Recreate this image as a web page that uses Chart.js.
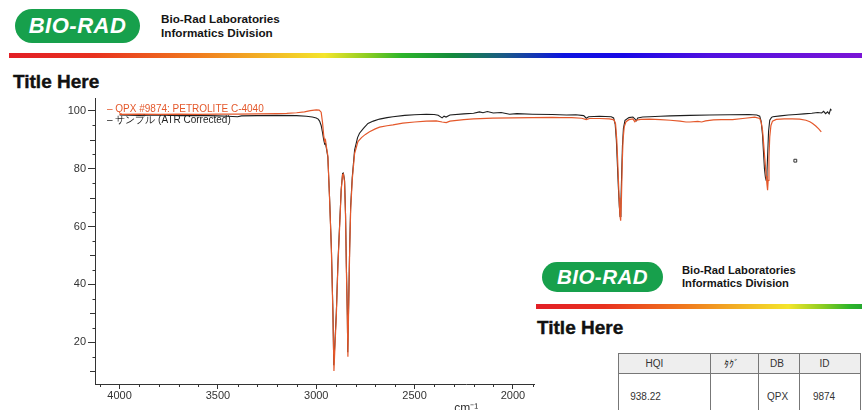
<!DOCTYPE html>
<html><head><meta charset="utf-8">
<script src="https://cdn.jsdelivr.net/npm/chart.js@4"></script>
<style>
html,body{margin:0;padding:0;width:862px;height:410px;overflow:hidden;background:#fff;font-family:'Liberation Sans',Arial,sans-serif;}
.abs{position:absolute;}
.logo{background:#17a04c;color:#fff;font-weight:bold;font-style:italic;text-align:center;letter-spacing:0.5px;}
.co{font-weight:bold;color:#151515;white-space:nowrap;}
.bar{background:linear-gradient(to right,#e21f26 0%,#e8311f 10%,#f07a1e 22%,#f4e52b 37%,#8ccd22 42%,#2db52a 46%,#138a3c 52%,#1a5a86 58%,#0d14e0 65%,#1808e6 72%,#5010e0 82%,#7a14d6 100%);}
.ttl{font-weight:bold;color:#111;white-space:nowrap;-webkit-text-stroke:0.4px #111;}
#legend div{white-space:nowrap;}
table.t{border-collapse:collapse;table-layout:fixed;font-size:10px;color:#333;}
table.t td{border:1px solid #777;text-align:center;padding:0;vertical-align:middle;white-space:nowrap;}
</style></head><body>
<div class="abs logo" style="left:15px;top:9px;width:125px;height:34px;line-height:34px;font-size:22px;border-radius:17px;">BIO-RAD</div>
<div class="abs co" style="left:161px;top:11.5px;font-size:11.7px;line-height:14.5px;">Bio-Rad Laboratories<br>Informatics Division</div>
<div class="abs bar" style="left:9px;top:53px;width:853px;height:5px;"></div>
<div class="abs ttl" style="left:13px;top:70.5px;font-size:19px;line-height:22px;">Title Here</div>
<canvas id="c" class="abs" width="862" height="420" style="left:0;top:0;"></canvas>
<div id="legend" class="abs" style="left:107px;top:104px;font-size:10px;line-height:10.5px;"></div>
<div class="abs" style="left:535px;top:250px;width:327px;height:160px;background:#fff;overflow:hidden;">
  <div class="abs logo" style="left:7px;top:12px;width:121px;height:30px;line-height:30px;font-size:20.5px;border-radius:15px;">BIO-RAD</div>
  <div class="abs co" style="left:147px;top:13.5px;font-size:11.2px;line-height:13px;">Bio-Rad Laboratories<br>Informatics Division</div>
  <div class="abs bar" style="left:1px;top:54px;width:682px;height:5px;"></div>
  <div class="abs ttl" style="left:2px;top:66.5px;font-size:19px;line-height:22px;">Title Here</div>
  <table class="t abs" style="left:83px;top:103px;">
    <colgroup><col style="width:92px"><col style="width:48px"><col style="width:41px"><col style="width:61px"></colgroup>
    <tr style="height:20px;background:#eeeeee">
      <td style="padding-right:20px">HQI</td><td style="padding-right:7px">ﾀｸﾞ</td><td style="padding-right:4px">DB</td><td style="padding-right:11px">ID</td>
    </tr>
    <tr style="height:46px">
      <td style="padding-right:38px">938.22</td><td></td><td style="padding-right:3px">QPX</td><td style="padding-right:12px">9874</td>
    </tr>
  </table>
</div>
<script>
// ---- data ----
const seriesLabels = ['QPX #9874: PETROLITE C-4040', 'サンプル (ATR Corrected)'];
const refWn = [4000,3900,3800,3700,3600,3500,3400,3300,3200,3150,
  3100,3060,3030,3000,2985,2975,2968,2962,2957,2953,
  2948,2941,2932,2923,2915,2910,2904,2898,2890,2881,
  2873,2866,2862,2856,2851,2847,2842,2839,2836,2830,
  2825,2817,2805,2788,2770,2750,2729,2700,2678,2640,
  2610,2560,2500,2440,2390,2360,2339,2320,2250,2200,
  2102,2000,1900,1800,1762,1700,1650,1627,1610,1560,
  1510,1490,1485,1478,1472,1468,1464,1460,1456,1452,
  1448,1444,1440,1434,1425,1410,1390,1380,1373,1350,
  1305,1250,1200,1150,1120,1100,1060,1040,1020,980,
  940,883,820,770,745,737,731,726,721,716,
  712,708,705,702,698,694,688,680,661,620,
  580,542,510,490,476,460,445,432];
const refT = [98.8,98.9,98.8,98.9,98.8,98.9,98.9,99.0,99.1,99.2,
  99.4,99.7,100.1,100.4,100.3,99.6,96.0,91.5,89.5,90.0,
  87.5,84.5,69.2,51.9,28.8,10.0,20.0,29.0,46.0,60.0,
  72.6,78.0,78.2,75.5,63.4,46.0,28.8,14.9,28.8,51.9,
  65.7,76.1,85.3,89.4,90.8,91.9,92.8,93.8,94.4,94.9,
  95.2,95.8,96.2,96.5,96.6,96.2,96.0,96.5,97.0,97.3,
  97.5,97.6,97.7,97.8,97.7,97.7,97.5,97.0,97.4,97.4,
  97.3,97.0,96.8,95.5,90.0,84.0,77.0,70.0,64.0,62.0,
  70.0,82.0,90.0,94.5,96.3,97.0,97.3,96.3,96.8,97.1,
  97.2,97.0,96.8,96.5,96.2,96.2,96.4,96.2,96.6,96.9,
  97.0,97.0,97.5,97.9,97.4,96.0,93.5,89.5,85.0,81.0,
  77.5,74.5,72.6,76.0,84.0,91.0,95.0,96.5,97.1,97.3,
  97.3,97.2,96.8,96.3,95.7,94.8,93.8,92.8];
const samWn = [4000,3900,3800,3700,3600,3500,3450,3400,3380,3300,
  3200,3100,3050,3020,3000,2990,2983,2975,2968,2962,
  2957,2953,2948,2941,2932,2923,2915,2911,2905,2898,
  2890,2881,2873,2866,2862,2856,2851,2847,2842,2840,
  2836,2830,2825,2817,2805,2790,2780,2760,2737,2710,
  2678,2640,2610,2550,2500,2440,2400,2380,2360,2350,
  2340,2320,2250,2200,2170,2152,2130,2100,2060,2017,
  1980,1900,1800,1728,1680,1640,1627,1615,1560,1500,
  1488,1480,1474,1469,1464,1459,1455,1451,1447,1443,
  1438,1430,1410,1390,1380,1372,1365,1340,1305,1250,
  1200,1100,1000,900,800,760,745,738,731,726,
  721,716,712,708,704,700,694,685,678,640,
  600,560,520,480,450,430,420,410,400,392,385,380];
const samT = [98.6,98.5,98.6,98.4,98.5,98.3,98.2,98.0,98.3,98.4,
  98.5,98.4,98.2,97.9,97.6,97.2,96.5,95.0,92.5,90.0,
  88.5,88.8,87.0,84.0,69.5,52.5,30.0,12.0,20.0,30.0,
  47.0,61.0,73.0,78.4,78.5,76.0,64.0,47.0,30.0,16.5,
  30.0,53.0,67.0,77.0,86.5,90.8,92.3,94.0,95.7,96.5,
  97.2,97.7,98.0,98.5,98.7,98.9,98.8,98.5,97.6,98.2,
  97.9,98.6,99.0,99.2,99.7,99.4,99.8,99.3,99.5,98.9,
  99.1,98.9,98.8,98.6,98.7,98.4,97.5,98.0,98.2,98.0,
  97.6,95.5,90.0,82.0,74.0,67.0,63.5,68.0,78.0,88.0,
  94.0,96.8,97.7,97.9,97.3,96.6,97.6,97.9,98.0,98.2,
  98.3,98.5,98.6,98.7,98.8,98.6,98.2,96.5,92.0,86.0,
  80.0,77.0,76.0,79.0,86.0,93.0,96.8,97.8,98.0,98.3,
  98.6,98.8,99.0,99.2,99.5,99.3,99.9,99.1,99.7,99.0,100.6,100.2];
const markWn = [564];
const markT = [82.8];
const xTickValues = [500,1000,1500,2000,2500,3000,3500,4000];
const yTickValues = [20,40,60,80,100];
const yMinorValues = [10,15,25,30,35,45,50,55,65,70,75,85,90,95];
const xMinorStep = 100;

const toPts = (xs, ys) => xs.map((x, i) => ({x: x, y: ys[i]}));

Chart.defaults.font.family = "'Liberation Sans', Arial, sans-serif";
Chart.defaults.color = '#333';

const minorTicks = {
  id: 'minorTicks',
  afterDraw(chart) {
    const ctx = chart.ctx, xs = chart.scales.x, ys = chart.scales.y;
    ctx.save();
    ctx.strokeStyle = '#333';
    ctx.lineWidth = 1;
    ctx.beginPath();
    for (let v = 400; v <= 4100; v += xMinorStep) {
      if (xTickValues.includes(v)) continue;
      const p = Math.round(xs.getPixelForValue(v)) + 0.5;
      ctx.moveTo(p, xs.top);
      ctx.lineTo(p, xs.top + 3);
    }
    yMinorValues.forEach(v => {
      const L = (v % 10 === 0) ? 5 : 2.5;
      const p = Math.round(ys.getPixelForValue(v)) + 0.5;
      ctx.moveTo(ys.right, p);
      ctx.lineTo(ys.right - L, p);
    });
    ctx.stroke();
    ctx.restore();
  }
};

const chart = new Chart(document.getElementById('c'), {
  type: 'line',
  data: {
    datasets: [
      {label: seriesLabels[0], data: toPts(refWn, refT), borderColor: '#e4582b', borderWidth: 1.2, pointRadius: 0, tension: 0, fill: false},
      {label: seriesLabels[1], data: toPts(samWn, samT), borderColor: '#1e1e1e', borderWidth: 1.1, pointRadius: 0, tension: 0, fill: false},
      {label: '', data: toPts(markWn, markT), showLine: false, pointStyle: 'rect', pointRadius: 2, borderColor: '#333', backgroundColor: '#fff', borderWidth: 1}
    ]
  },
  options: {
    responsive: false,
    animation: false,
    devicePixelRatio: 1,
    layout: {padding: {top: 98, right: 24.6, left: 0, bottom: 0}},
    plugins: {legend: {display: false}, tooltip: {enabled: false}},
    scales: {
      x: {
        type: 'linear', reverse: true, min: 350, max: 4125,
        afterBuildTicks(s) { s.ticks = xTickValues.map(v => ({value: v})); },
        afterFit(s) { s.height = 36; },
        grid: {drawOnChartArea: false, drawTicks: true, tickLength: 5, color: '#333'},
        border: {color: '#333', width: 1},
        ticks: {color: '#333', font: {size: 11}, padding: 0, maxRotation: 0, autoSkip: false, callback: v => String(v)},
        title: {display: true, text: 'cm⁻¹', color: '#333', font: {size: 12}, padding: {top: 0, bottom: 4}}
      },
      y: {
        min: 5.5, max: 104.5,
        afterBuildTicks(s) { s.ticks = yTickValues.map(v => ({value: v})); },
        afterFit(s) { s.width = 95; },
        grid: {drawOnChartArea: false, drawTicks: true, tickLength: 7, color: '#333'},
        border: {color: '#333', width: 1},
        ticks: {color: '#333', font: {size: 11}, padding: 2, callback: v => String(v)}
      }
    }
  },
  plugins: [minorTicks]
});

const leg = document.getElementById('legend');
chart.data.datasets.slice(0, 2).forEach(ds => {
  const d = document.createElement('div');
  d.style.color = ds.borderColor;
  d.textContent = '– ' + ds.label;
  leg.appendChild(d);
});
</script>
</body></html>
